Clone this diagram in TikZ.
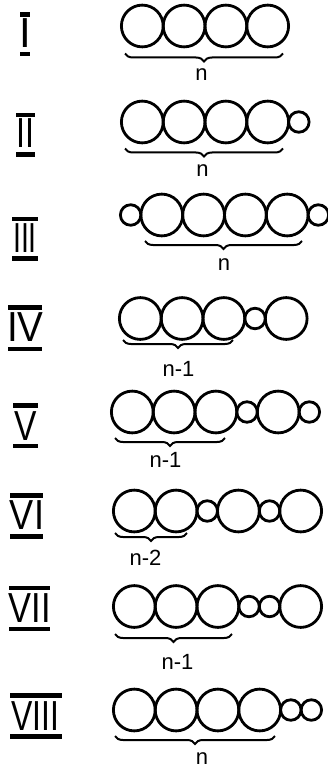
\documentclass[tikz,border=0pt]{standalone}
\usepackage{fontspec}
\setmainfont{Liberation Sans}
\usetikzlibrary{positioning,decorations.pathreplacing}

\tikzset{
  big/.style={circle, draw, line width=2.8pt, minimum size=41.8pt, inner sep=0pt, outer sep=0pt},
  small/.style={circle, draw, line width=2.8pt, minimum size=20.5pt, inner sep=0pt, outer sep=0pt},
  bracket/.style={decorate, decoration={brace, amplitude=8pt, mirror}, line width=2pt},
  numeral/.style={inner sep=0pt, font=\fontsize{42}{42}\selectfont},
  count/.style={inner sep=0pt, font=\fontsize{22}{22}\selectfont},
  bar/.style={line width=4.6pt, line cap=butt},
}

\begin{document}
\begin{tikzpicture}[x=1pt, y=-1pt]
\useasboundingbox (0,0) rectangle (328,770);

% ---------- I ----------
\node[numeral] (numI) at (25,33) {I};
\draw[bar] (20,14.5) -- (30,14.5);
\draw[bar] (20,54) -- (30,54);
\node[big, anchor=west] (r1c1) at (121.4,26) {};
\node[big, right=0pt of r1c1] (r1c2) {};
\node[big, right=0pt of r1c2] (r1c3) {};
\node[big, right=0pt of r1c3] (r1c4) {};
\draw[bracket] (125,53.5) -- (283,53.5);
\node[count] (lab1) at (201.5,74.5) {n};

% ---------- II ----------
\node[numeral] (numII) at (25.5,133.5) {\scalebox{0.77}[1]{II}};
\draw[bar] (16,115) -- (35,115);
\draw[bar] (16,154.5) -- (35,154.5);
\node[big, anchor=west] (r2c1) at (121.4,122) {};
\node[big, right=0pt of r2c1] (r2c2) {};
\node[big, right=0pt of r2c2] (r2c3) {};
\node[big, right=0pt of r2c3] (r2c4) {};
\node[small, right=0pt of r2c4] (r2c5) {};
\draw[bracket] (125,148.5) -- (283,148.5);
\node[count] (lab2) at (202.5,170.5) {n};

% ---------- III ----------
\node[numeral] (numIII) at (25,238) {\scalebox{0.68}[1]{III}};
\draw[bar] (12,219) -- (38,219);
\draw[bar] (12,258.5) -- (38,258.5);
\node[small, anchor=west] (r3c1) at (120.4,215) {};
\node[big, right=0pt of r3c1] (r3c2) {};
\node[big, right=0pt of r3c2] (r3c3) {};
\node[big, right=0pt of r3c3] (r3c4) {};
\node[big, right=0pt of r3c4] (r3c5) {};
\node[small, right=0pt of r3c5] (r3c6) {};
\draw[bracket] (145,241) -- (302,241);
\node[count] (lab3) at (224,265) {n};

% ---------- IV ----------
\node[numeral] (numIV) at (25.5,327.5) {\scalebox{0.92}[1]{IV}};
\draw[bar] (8,307.5) -- (42,307.5);
\draw[bar] (8,349) -- (42,349);
\node[big, anchor=west] (r4c1) at (119.4,318.5) {};
\node[big, right=0pt of r4c1] (r4c2) {};
\node[big, right=0pt of r4c2] (r4c3) {};
\node[small, right=0pt of r4c3] (r4c4) {};
\node[big, right=0pt of r4c4] (r4c5) {};
\draw[bracket] (123,340) -- (233,340);
\node[count] (lab4) at (178.5,368.5) {n-1};

% ---------- V ----------
\node[numeral] (numV) at (26,426) {\scalebox{0.8}[1]{V}};
\draw[bar] (13,405.5) -- (38,405.5);
\draw[bar] (13,446) -- (38,446);
\node[big, anchor=west] (r5c1) at (111.4,412) {};
\node[big, right=0pt of r5c1] (r5c2) {};
\node[big, right=0pt of r5c2] (r5c3) {};
\node[small, right=0pt of r5c3] (r5c4) {};
\node[big, right=0pt of r5c4] (r5c5) {};
\node[small, right=0pt of r5c5] (r5c6) {};
\draw[bracket] (115,438) -- (225,438);
\node[count] (lab5) at (165.5,460) {n-1};

% ---------- VI ----------
\node[numeral] (numVI) at (27,515) {\scalebox{0.86}[1]{VI}};
\draw[bar] (10,495.5) -- (43,495.5);
\draw[bar] (10,536.5) -- (43,536.5);
\node[big, anchor=west] (r6c1) at (113.4,511) {};
\node[big, right=0pt of r6c1] (r6c2) {};
\node[small, right=0pt of r6c2] (r6c3) {};
\node[big, right=0pt of r6c3] (r6c4) {};
\node[small, right=0pt of r6c4] (r6c5) {};
\node[big, right=0pt of r6c5] (r6c6) {};
\draw[bracket] (115,533) -- (187,533);
\node[count] (lab6) at (145.5,558) {n-2};

% ---------- VII ----------
\node[numeral] (numVII) at (30,608) {\scalebox{0.82}[1]{VII}};
\draw[bar] (9,588) -- (50,588);
\draw[bar] (9,629) -- (50,629);
\node[big, anchor=west] (r7c1) at (113.4,606.5) {};
\node[big, right=0pt of r7c1] (r7c2) {};
\node[big, right=0pt of r7c2] (r7c3) {};
\node[small, right=0pt of r7c3] (r7c4) {};
\node[small, right=0pt of r7c4] (r7c5) {};
\node[big, right=0pt of r7c5] (r7c6) {};
\draw[bracket] (115,634) -- (232,634);
\node[count] (lab7) at (177.5,661.5) {n-1};

% ---------- VIII ----------
\node[numeral] (numVIII) at (35,716) {\scalebox{0.76}[1]{VIII}};
\draw[bar] (10,695.5) -- (62,695.5);
\draw[bar] (10,736.5) -- (62,736.5);
\node[big, anchor=west] (r8c1) at (113.4,710) {};
\node[big, right=0pt of r8c1] (r8c2) {};
\node[big, right=0pt of r8c2] (r8c3) {};
\node[big, right=0pt of r8c3] (r8c4) {};
\node[small, right=0pt of r8c4] (r8c5) {};
\node[small, right=0pt of r8c5] (r8c6) {};
\draw[bracket] (115,736) -- (275,736);
\node[count] (lab8) at (202,759) {n};
\end{tikzpicture}
\end{document}
